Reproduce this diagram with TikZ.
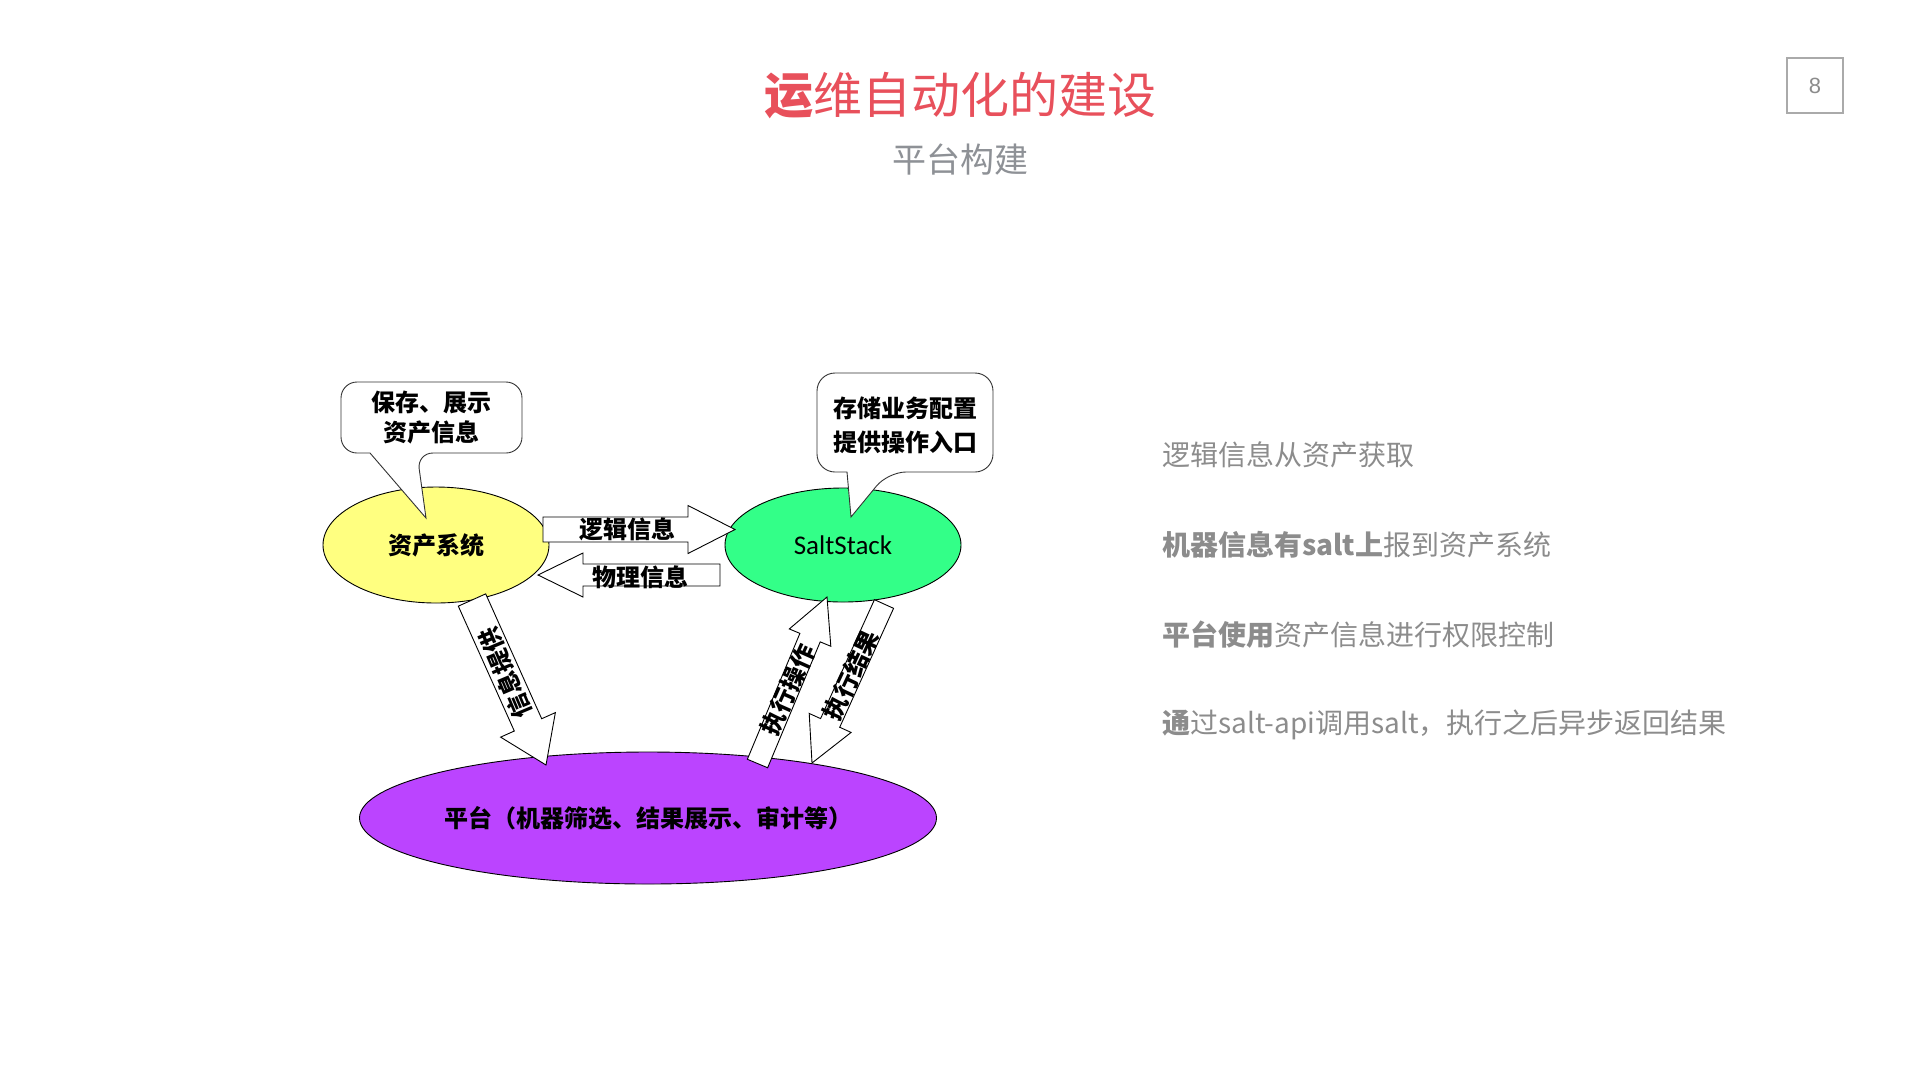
\documentclass[tikz,border=0pt]{standalone}
\usepackage{fontspec}
\newfontfamily\cjk{Noto Sans CJK SC}
\newfontfamily\calibri{Carlito}
\newfontfamily\helv{Liberation Sans}
\usetikzlibrary{calc,shapes.geometric}
\definecolor{yellowf}{HTML}{FFFF80}
\definecolor{greenf}{HTML}{33FF88}
\definecolor{purplef}{HTML}{BB44FF}
\definecolor{titlered}{HTML}{E8505B}
\definecolor{subgray}{HTML}{8E9196}
\definecolor{txtgray}{HTML}{8C8C8C}
\definecolor{boxgray}{HTML}{AAAAAA}
\newcommand\blockarr[5]{% tail, tip, body half width, head half width, head length
  \coordinate (bhH) at ($(#2)!#5!(#1)$);
  \draw[barrow] ($(#1)!#3!90:(#2)$) -- ($(bhH)!#3!90:(#2)$) -- ($(bhH)!#4!90:(#2)$)
    -- (#2) -- ($(bhH)!#4!-90:(#2)$) -- ($(bhH)!#3!-90:(#2)$) -- ($(#1)!#3!-90:(#2)$) -- cycle;
}
\tikzset{
  barrow/.style={draw=black, fill=white, line width=0.9pt, line join=miter},
  callout/.style={draw=black!80, fill=white, line width=0.9pt},
  lbl/.style={font=\cjk\bfseries\fontsize{24}{30}\selectfont, inner sep=0pt, text=black},
  ell/.style={ellipse, draw=black, line width=0.9pt, inner sep=0pt, font=\cjk\bfseries\fontsize{24}{30}\selectfont},
  rt/.style={font=\cjk\fontsize{28}{32}\selectfont, text=txtgray, anchor=west, inner sep=0pt}
}
\begin{document}
\begin{tikzpicture}[x=1pt,y=-1pt]
\useasboundingbox (0,0) rectangle (1919,1080);
\fill[white] (0,0) rectangle (1919,1080);

% title
\node[font=\cjk\fontsize{49}{55}\selectfont, text=titlered, inner sep=0pt] (title) at (960,96) {{\bfseries 运}维自动化的建设};
\node[font=\cjk\fontsize{34}{40}\selectfont, text=subgray, inner sep=0pt] (sub) at (960,160) {平台构建};
\node[draw=boxgray, line width=1.2pt, minimum width=56, minimum height=55, inner sep=0pt,
      font=\helv\fontsize{22}{26}\selectfont, text=txtgray] (pg) at (1815,85.5) {8};

% ellipses
\node[ell, fill=yellowf, minimum width=226, minimum height=116] (asset) at (436,545) {资产系统};
\node[ell, fill=greenf, minimum width=236, minimum height=114, font=\calibri\fontsize{27}{30}\selectfont] (salt) at (843,545) {SaltStack};
\node[ell, fill=purplef, minimum width=572, minimum height=132] (plat) at (648,818) {平台（机器筛选、结果展示、审计等）};

% callouts
\draw[callout] (370,453) [rounded corners=16] -- (341,453) -- (341,382) -- (522,382) -- (522,453) -- (417,453) [sharp corners] -- (426,518) -- cycle;
\node[lbl, align=center] (c1) at (431,418) {保存、展示\\资产信息};
\draw[callout] (847,472) [rounded corners=18] -- (817,472) -- (817,373) -- (993,373) -- (993,472) -- (888,472) [sharp corners] -- (851,517) -- cycle;
\node[lbl, align=center, font=\cjk\bfseries\fontsize{24}{34}\selectfont] (c2) at (905,425) {存储业务配置\\提供操作入口};

% block arrows
\coordinate (a1t) at (543,529.5); \coordinate (a1p) at (735,529.5);
\blockarr{a1t}{a1p}{12.5pt}{24pt}{47pt}
\node[lbl] (l1) at (627,529) {逻辑信息};

\coordinate (a2t) at (720,575); \coordinate (a2p) at (538,575);
\blockarr{a2t}{a2p}{11pt}{22pt}{45pt}
\node[lbl] (l2) at (640,577) {物理信息};

\coordinate (a3t) at (472,600); \coordinate (a3p) at (546,765);
\blockarr{a3t}{a3p}{15pt}{30pt}{44pt}
\node[lbl, rotate=113] (l3) at (505,673) {信息提供};

\coordinate (a4t) at (757.5,763.5); \coordinate (a4p) at (827,597);
\blockarr{a4t}{a4p}{11pt}{22.5pt}{44pt}
\node[lbl, rotate=66] (l4) at (788,690) {执行操作};

\coordinate (a5t) at (884,604); \coordinate (a5p) at (812,763);
\blockarr{a5t}{a5p}{10.5pt}{23pt}{44pt}
\node[lbl, rotate=65] (l5) at (851,675) {执行结果};

% right text
\node[rt] (r1) at (1162,455) {逻辑信息从资产获取};
\node[rt] (r2) at (1162,545) {{\bfseries 机器信息有salt上}报到资产系统};
\node[rt] (r3) at (1162,635) {{\bfseries 平台使用}资产信息进行权限控制};
\node[rt] (r4) at (1162,725) {{\bfseries 通}过salt-api调用salt，执行之后异步返回结果};
\end{tikzpicture}
\end{document}
